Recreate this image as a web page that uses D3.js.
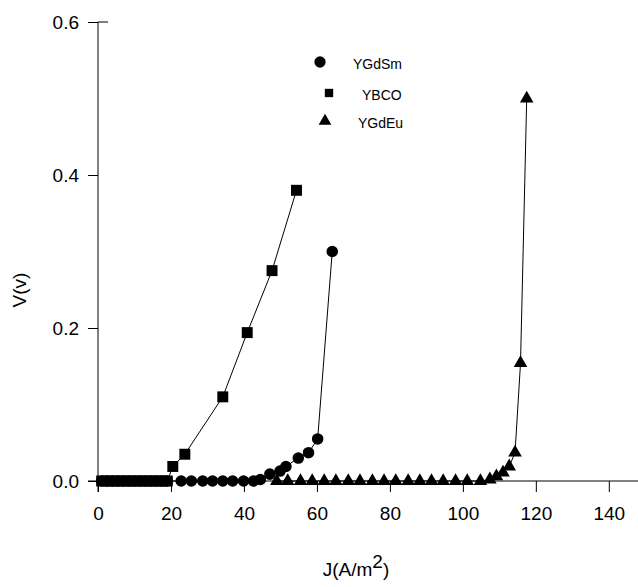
<!DOCTYPE html>
<html>
<head>
<meta charset="utf-8">
<script src="https://cdn.jsdelivr.net/npm/d3@7"></script>
<style>
  body { margin: 0; background: #fff; }
  svg text { font-family: "Liberation Sans", Arial, sans-serif; fill: #000; }
</style>
</head>
<body>
<svg id="chart" width="638" height="587"></svg>
<script>
// J (A/m^2) and V (v)
const smJ = [1, 2.5, 4, 5.5, 7, 8.5, 10, 11.5, 13, 14.5, 16, 17.5, 19, 22.8, 25.6, 28.7, 31.4, 34.2, 36.9, 39.9, 42.6, 44.5, 47.1, 49.9, 51.5, 54.9, 57.7, 60.2, 64.2];
const smV = [0, 0, 0, 0, 0, 0, 0, 0, 0, 0, 0, 0, 0, 0, 0, 0, 0, 0, 0, 0, 0, 0.002, 0.009, 0.013, 0.019, 0.030, 0.037, 0.055, 0.300];

const bcoJ = [1, 2.5, 4, 5.5, 7, 8.5, 10, 11.5, 13, 14.5, 16, 17.5, 19, 20.5, 23.8, 34.2, 40.9, 47.7, 54.4];
const bcoV = [0, 0, 0, 0, 0, 0, 0, 0, 0, 0, 0, 0, 0, 0.019, 0.035, 0.110, 0.194, 0.275, 0.380];

const euJ = [49, 52, 55.5, 58.7, 62, 65.2, 68.6, 71.8, 75.2, 78.4, 81.6, 85, 88.2, 91.4, 94.6, 98, 101.2, 104.8, 107.4, 109.2, 111, 112.7, 114.3, 115.8, 117.5];
const euV = [0, 0, 0, 0, 0, 0, 0, 0, 0, 0, 0, 0, 0, 0, 0, 0, 0, 0, 0.002, 0.006, 0.011, 0.019, 0.037, 0.154, 0.500];

const xTicks = [0, 20, 40, 60, 80, 100, 120, 140];
const yTicks = [0, 0.2, 0.4, 0.6];

const seriesNames = ["YGdSm", "YBCO", "YGdEu"];
const seriesShapes = [d3.symbolCircle, d3.symbolSquare, d3.symbolTriangle];

const svg = d3.select("#chart");

const x = d3.scaleLinear().domain([0, 148]).range([98, 638]);
const y = d3.scaleLinear().domain([0, 0.6]).range([481, 22]);

// y axis
svg.append("g")
    .attr("transform", `translate(${x(0)},0)`)
    .call(d3.axisLeft(y).tickValues(yTicks).tickFormat(d3.format(".1f")).tickSize(10).tickPadding(9))
    .call(g => g.select(".domain").attr("d", `M0,${y(0.6)}V${y(0) + 11}`))
    .call(g => g.selectAll("text").attr("font-size", 19).style("font-size", "19px"));

// short tick on the right side of the top
svg.append("line")
    .attr("x1", x(0)).attr("x2", x(0) + 10)
    .attr("y1", y(0.6)).attr("y2", y(0.6))
    .attr("stroke", "#000");

// x axis
svg.append("g")
    .attr("transform", `translate(0,${y(0)})`)
    .call(d3.axisBottom(x).tickValues(xTicks).tickFormat(d3.format("d")).tickSize(11).tickPadding(15))
    .call(g => g.select(".domain").attr("d", `M${x(0) - 10},0H638`))
    .call(g => g.selectAll("text").attr("font-size", 19).style("font-size", "19px"));

// axis titles
const xt = svg.append("text")
    .attr("x", 356).attr("y", 576)
    .attr("text-anchor", "middle")
    .style("font-size", "19px")
    .text("J(A/m");
xt.append("tspan").attr("dy", -8).text("2");
xt.append("tspan").attr("dy", 8).text(")");

svg.append("text")
    .attr("transform", "rotate(-90)")
    .attr("x", -290).attr("y", 26)
    .attr("text-anchor", "middle")
    .style("font-size", "19px")
    .text("V(v)");

const sets = [
    { J: smJ, V: smV, shape: seriesShapes[0], size: 105 },
    { J: bcoJ, V: bcoV, shape: seriesShapes[1], size: 120 },
    { J: euJ, V: euV, shape: seriesShapes[2], size: 80 },
];

const line = d3.line().x(d => x(d[0])).y(d => y(d[1]));

sets.forEach(s => {
    const pts = s.J.map((j, i) => [j, s.V[i]]);
    svg.append("path")
        .attr("d", line(pts))
        .attr("fill", "none")
        .attr("stroke", "#000")
        .attr("stroke-width", 1);
    svg.append("g").selectAll("path")
        .data(pts)
        .enter()
        .append("path")
        .attr("transform", d => `translate(${x(d[0])},${y(d[1])})`)
        .attr("d", d3.symbol().type(s.shape).size(s.size))
        .attr("fill", "#000");
});

// legend
const legendPos = [
    { sx: 320, sy: 62, tx: 353, ty: 69 },
    { sx: 329, sy: 93, tx: 362, ty: 100 },
    { sx: 325, sy: 121, tx: 358, ty: 128 },
];
legendPos.forEach((p, i) => {
    svg.append("path")
        .attr("transform", `translate(${p.sx},${p.sy})`)
        .attr("d", d3.symbol().type(seriesShapes[i]).size(i === 0 ? 100 : 70))
        .attr("fill", "#000");
    svg.append("text")
        .attr("x", p.tx).attr("y", p.ty)
        .style("font-size", "14px")
        .text(seriesNames[i]);
});
</script>
</body>
</html>
